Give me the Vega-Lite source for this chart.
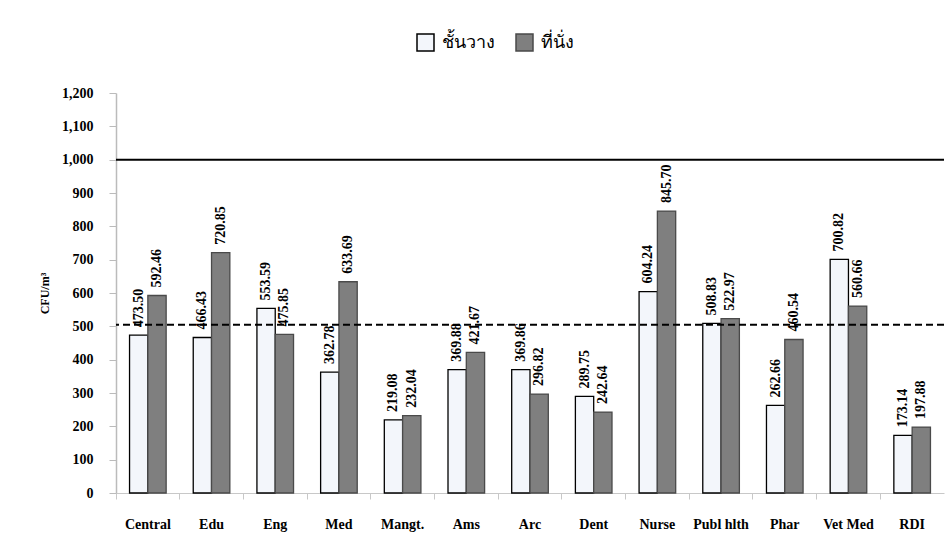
{
  "$schema": "https://vega.github.io/schema/vega-lite/v6.json",
  "width": 828,
  "height": 400,
  "autosize": {"type": "none"},
  "padding": {"left": 116, "top": 93, "right": 7, "bottom": 51},
  "background": "white",
  "config": {
    "view": {"stroke": null},
    "font": "Liberation Serif",
    "axis": {"labelOverlap": false, "labelSeparation": 0},
    "axisY": {"labelOverlap": false}
  },
  "data": {
    "values": [
      {"fac": "Central", "loc": "ชั้นวาง", "v": 473.50},
      {"fac": "Central", "loc": "ที่นั่ง", "v": 592.46},
      {"fac": "Edu", "loc": "ชั้นวาง", "v": 466.43},
      {"fac": "Edu", "loc": "ที่นั่ง", "v": 720.85},
      {"fac": "Eng", "loc": "ชั้นวาง", "v": 553.59},
      {"fac": "Eng", "loc": "ที่นั่ง", "v": 475.85},
      {"fac": "Med", "loc": "ชั้นวาง", "v": 362.78},
      {"fac": "Med", "loc": "ที่นั่ง", "v": 633.69},
      {"fac": "Mangt.", "loc": "ชั้นวาง", "v": 219.08},
      {"fac": "Mangt.", "loc": "ที่นั่ง", "v": 232.04},
      {"fac": "Ams", "loc": "ชั้นวาง", "v": 369.88},
      {"fac": "Ams", "loc": "ที่นั่ง", "v": 421.67},
      {"fac": "Arc", "loc": "ชั้นวาง", "v": 369.86},
      {"fac": "Arc", "loc": "ที่นั่ง", "v": 296.82},
      {"fac": "Dent", "loc": "ชั้นวาง", "v": 289.75},
      {"fac": "Dent", "loc": "ที่นั่ง", "v": 242.64},
      {"fac": "Nurse", "loc": "ชั้นวาง", "v": 604.24},
      {"fac": "Nurse", "loc": "ที่นั่ง", "v": 845.70},
      {"fac": "Publ hlth", "loc": "ชั้นวาง", "v": 508.83},
      {"fac": "Publ hlth", "loc": "ที่นั่ง", "v": 522.97},
      {"fac": "Phar", "loc": "ชั้นวาง", "v": 262.66},
      {"fac": "Phar", "loc": "ที่นั่ง", "v": 460.54},
      {"fac": "Vet Med", "loc": "ชั้นวาง", "v": 700.82},
      {"fac": "Vet Med", "loc": "ที่นั่ง", "v": 560.66},
      {"fac": "RDI", "loc": "ชั้นวาง", "v": 173.14},
      {"fac": "RDI", "loc": "ที่นั่ง", "v": 197.88}
    ]
  },
  "encoding": {
    "y": {
      "field": "v", "type": "quantitative",
      "scale": {"domain": [0, 1200], "nice": false},
      "axis": {
        "title": "CFU/m³", "values": [0, 100, 200, 300, 400, 500, 600, 700, 800, 900, 1000, 1100, 1200],
        "format": ",d", "grid": false, "labelOverlap": false,
        "domainColor": "#bbbbbb", "domainWidth": 1.5, "tickColor": "#bbbbbb", "tickSize": 7,
        "labelFont": "Liberation Serif", "labelFontWeight": "bold", "labelFontSize": 14,
        "labelColor": "black", "labelPadding": 16,
        "titleFont": "Liberation Serif", "titleFontWeight": "bold", "titleFontSize": 12,
        "titleColor": "black", "titlePadding": 10
      }
    }
  },
  "layer": [
    {
      "mark": {"type": "bar", "strokeWidth": 1.3},
      "encoding": {
        "x": {
          "field": "fac", "type": "nominal", "sort": null,
          "scale": {"paddingInner": 0, "paddingOuter": 0},
          "axis": {
            "title": null, "labelAngle": 0, "bandPosition": 0, "labelOverlap": false,
            "domainColor": "#c8c8c8", "tickColor": "#c8c8c8", "tickSize": 6,
            "labelFont": "Liberation Serif", "labelFontWeight": "bold", "labelFontSize": 14,
            "labelColor": "black", "labelPadding": 18
          }
        },
        "xOffset": {
          "field": "loc", "type": "nominal", "sort": ["ชั้นวาง", "ที่นั่ง"],
          "scale": {"paddingInner": 0, "paddingOuter": 0.74}
        },
        "fill": {
          "field": "loc", "type": "nominal", "title": null,
          "scale": {"domain": ["ชั้นวาง", "ที่นั่ง"], "range": ["#f3f6fb", "#7f7f7f"]},
          "legend": {
            "orient": "none", "legendX": 300, "legendY": -60, "direction": "horizontal",
            "symbolType": "square", "symbolSize": 289, "symbolStrokeWidth": 1.5,
            "labelFont": "Liberation Serif", "labelFontSize": 18, "labelColor": "black",
            "labelOffset": 7, "columnPadding": 18, "padding": 0
          }
        },
        "stroke": {
          "field": "loc", "type": "nominal", "title": null,
          "scale": {"domain": ["ชั้นวาง", "ที่นั่ง"], "range": ["#000000", "#4a4a4a"]}
        }
      }
    },
    {
      "mark": {
        "type": "text", "angle": 270, "align": "left", "baseline": "middle", "dx": 8,
        "font": "Liberation Serif", "fontWeight": "bold", "fontSize": 14, "color": "black"
      },
      "encoding": {
        "x": {"field": "fac", "type": "nominal", "sort": null},
        "xOffset": {"field": "loc", "type": "nominal", "sort": ["ชั้นวาง", "ที่นั่ง"]},
        "text": {"field": "v", "type": "quantitative", "format": ".2f"}
      }
    },
    {
      "data": {"values": [{"v": 1000}]},
      "mark": {"type": "rule", "color": "black", "strokeWidth": 2},
      "encoding": {}
    },
    {
      "data": {"values": [{"v": 505}]},
      "mark": {"type": "rule", "color": "black", "strokeWidth": 2, "strokeDash": [7, 4]},
      "encoding": {}
    }
  ]
}
